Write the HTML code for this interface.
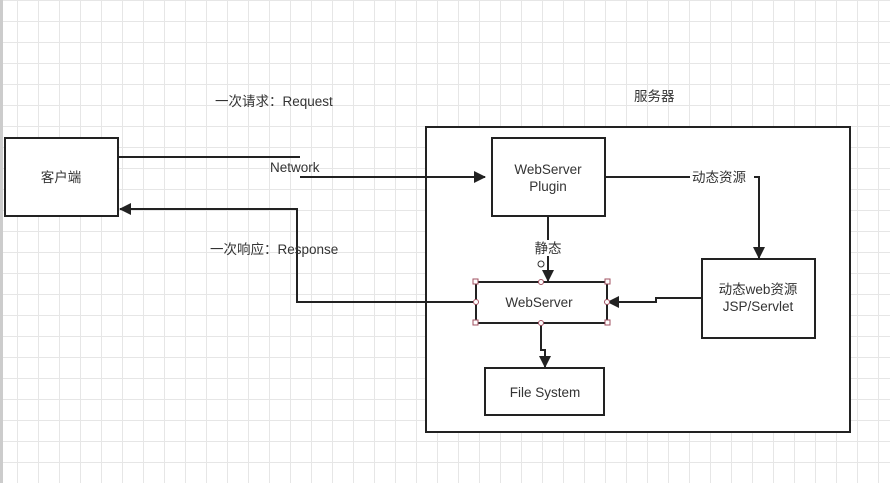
<!DOCTYPE html>
<html><head><meta charset="utf-8"><style>
html,body{margin:0;padding:0}
body{width:890px;height:483px;overflow:hidden;background-color:#fff;
background-image:linear-gradient(#e6e6e6 1px,transparent 1px),linear-gradient(90deg,#e6e6e6 1px,transparent 1px);
background-size:21px 21px;background-position:-4px 0}
svg{position:absolute;left:0;top:0}
text{font-family:"Liberation Sans","Noto Sans CJK SC",sans-serif;font-size:13.5px;fill:#333}
</style></head><body>
<svg width="890" height="483" viewBox="0 0 890 483">
<defs><marker id="a" markerWidth="12" markerHeight="12" refX="11" refY="6" orient="auto" markerUnits="userSpaceOnUse"><path d="M0,0 L12,6 L0,12 z" fill="#222"/></marker></defs>
<rect x="0" y="0" width="3" height="483" fill="#ccc"/>
<g fill="#fff" stroke="#222" stroke-width="2">
<rect x="426" y="127" width="424" height="305"/>
<rect x="5" y="138" width="113" height="78"/>
<rect x="492" y="138" width="113" height="78"/>
<rect x="476" y="282" width="131" height="41"/>
<rect x="702" y="259" width="113" height="79"/>
<rect x="485" y="368" width="119" height="47"/>
</g>
<g fill="none" stroke="#222" stroke-width="2">
<path d="M118 157 H300"/>
<path d="M300 177 H485" marker-end="url(#a)"/>
<path d="M473 302 H297 V209 H120" marker-end="url(#a)"/>
<path d="M605 177 H759 V258" marker-end="url(#a)"/>
<path d="M548 216 V281" marker-end="url(#a)"/>
<path d="M702 298 H656 V302 H608" marker-end="url(#a)"/>
<path d="M541 323 V350 H545 V367" marker-end="url(#a)"/>
</g>
<rect x="530" y="240" width="36" height="16" fill="#fff"/>
<rect x="690" y="170" width="64" height="16" fill="#fff"/>
<g fill="#fff" stroke="#a05060" stroke-width="1">
<rect x="473" y="279" width="5" height="5"/><rect x="605" y="279" width="5" height="5"/>
<rect x="473" y="320" width="5" height="5"/><rect x="605" y="320" width="5" height="5"/>
<circle cx="476" cy="302" r="2.5"/><circle cx="607" cy="302" r="2.5"/>
<circle cx="541" cy="282" r="2.5"/><circle cx="541" cy="323" r="2.5"/>
<circle cx="541" cy="264" r="3" stroke="#333"/>
</g>
<text x="61" y="182" text-anchor="middle">客户端</text>
<text x="548" y="174" text-anchor="middle">WebServer</text>
<text x="548" y="191" text-anchor="middle">Plugin</text>
<text x="539" y="307" text-anchor="middle">WebServer</text>
<text x="758" y="294" text-anchor="middle">动态web资源</text>
<text x="758" y="311" text-anchor="middle">JSP/Servlet</text>
<text x="545" y="397" text-anchor="middle">File System</text>
<text x="548" y="253" text-anchor="middle">静态</text>
<text x="692" y="182">动态资源</text>
<text x="634" y="101">服务器</text>
<text x="215" y="106">一次请求：Request</text>
<text x="270" y="172">Network</text>
<text x="210" y="254">一次响应：Response</text>
</svg>
</body></html>
